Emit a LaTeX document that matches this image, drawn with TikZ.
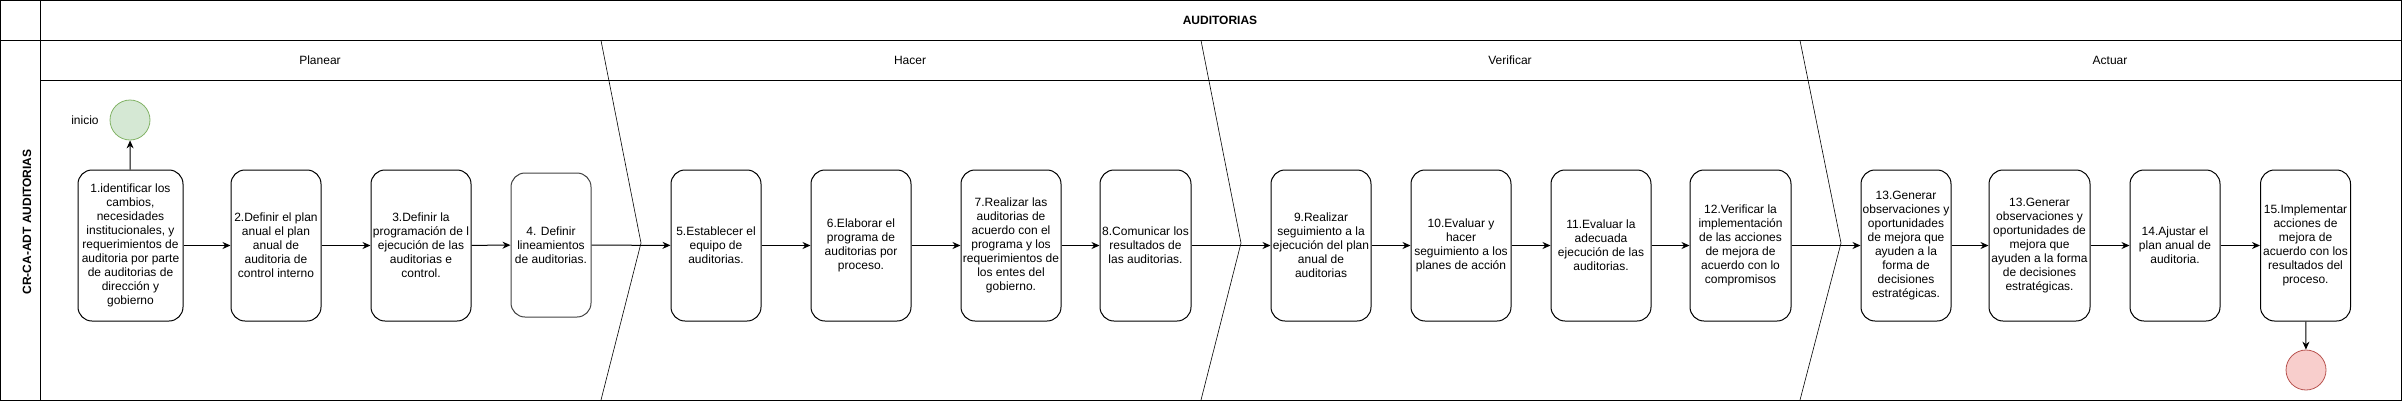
\documentclass[tikz,border=0pt]{standalone}
\usepackage{fontspec}
\setmainfont{Liberation Sans}
\usetikzlibrary{arrows.meta}

\definecolor{verdeini}{HTML}{D5E8D4}
\definecolor{bordeini}{HTML}{82B366}
\definecolor{rojofin}{HTML}{F8CECC}
\definecolor{bordefin}{HTML}{B85450}

\begin{document}
\begin{tikzpicture}[x=1pt,y=-1pt,
        font=\fontsize{12}{14}\selectfont,
        paso/.style={draw,line width=1pt,rounded corners=14pt,inner sep=0pt,
            align=center,minimum height=151pt},
        flecha/.style={-{Stealth[length=8pt,width=7pt]},line width=1pt},
        evento/.style={circle,minimum size=40pt,inner sep=0pt,line width=0.8pt},
        fase/.style={inner sep=0pt}]
    \useasboundingbox (0,0) rectangle (2403,402);

    % pool and lanes
    \draw[line width=0.8pt]
        (0.5,0.5) rectangle (2401,400)
        (40.5,0.5) -- (40.5,400)
        (0.5,40.5) -- (2401,40.5)
        (40.5,80.5) -- (2401,80.5)
    ;
    \draw[line width=0.6pt]
        (601,40.5) -- (641,243) -- (601,400)
        (1201,40.5) -- (1241,243) -- (1201,400)
        (1800,40.5) -- (1841,243) -- (1800,400)
    ;

    \node [fase,font=\fontsize{12}{14}\selectfont\bfseries] (titulo) at (1220,20) {AUDITORIAS};
    \node [fase,font=\fontsize{12}{14}\selectfont\bfseries,rotate=90] (carril) at (27,222) {CR-CA-ADT AUDITORIAS};
    \node [fase] (planear) at (320,60) {Planear};
    \node [fase] (hacer) at (910,60) {Hacer};
    \node [fase] (verificar) at (1510,60) {Verificar};
    \node [fase] (actuar) at (2110,60) {Actuar};

    % eventos
    \node [evento,fill=verdeini,draw=bordeini] (inicio) at (130,120) {};
    \node [fase] (txtinicio) at (85,120) {inicio};
    \node [evento,fill=rojofin,draw=bordefin] (fin) at (2306,370) {};

    % planear
    \node [paso,minimum width=105pt] (p1) at (130.5,245.5) {1.identificar los\\cambios,\\necesidades\\institucionales, y\\requerimientos de\\auditoria por parte\\de auditorias de\\dirección y\\gobierno};
    \node [paso,minimum width=90pt] (p2) at (276,245.5) {2.Definir el plan\\anual el plan\\anual de\\auditoria de\\control interno};
    \node [paso,minimum width=100pt] (p3) at (421,245.5) {3.Definir la\\programación de l\\ejecución de las\\auditorias e\\control.};
    \node [paso,minimum width=80pt,minimum height=144pt,draw=black!75] (p4) at (551,245) {4. Definir\\lineamientos\\de auditorias.};

    % hacer
    \node [paso,minimum width=90pt] (p5) at (716,245.5) {5.Establecer el\\equipo de\\auditorias.};
    \node [paso,minimum width=100pt] (p6) at (861,245.5) {6.Elaborar el\\programa de\\auditorias por\\proceso.};
    \node [paso,minimum width=100pt] (p7) at (1011,245.5) {7.Realizar las\\auditorias de\\acuerdo con el\\programa y los\\requerimientos de\\los entes del\\gobierno.};
    \node [paso,minimum width=91pt] (p8) at (1145.5,245.5) {8.Comunicar los\\resultados de\\las auditorias.};

    % verificar
    \node [paso,minimum width=100pt] (p9) at (1321,245.5) {9.Realizar\\seguimiento a la\\ejecución del plan\\anual de\\auditorias};
    \node [paso,minimum width=100pt] (p10) at (1461,245.5) {10.Evaluar y\\hacer\\seguimiento a los\\planes de acción};
    \node [paso,minimum width=100pt] (p11) at (1601,245.5) {11.Evaluar la\\adecuada\\ejecución de las\\auditorias.};
    \node [paso,minimum width=101pt] (p12) at (1740.5,245.5) {12.Verificar la\\implementación\\de las acciones\\de mejora de\\acuerdo con lo\\compromisos};

    % actuar
    \node [paso,minimum width=90pt] (p13a) at (1906,245.5) {13.Generar\\observaciones y\\oportunidades\\de mejora que\\ayuden a la\\forma de\\decisiones\\estratégicas.};
    \node [paso,minimum width=101pt] (p13b) at (2039.5,245.5) {13.Generar\\observaciones y\\oportunidades de\\mejora que\\ayuden a la forma\\de decisiones\\estratégicas.};
    \node [paso,minimum width=90pt] (p14) at (2175,245.5) {14.Ajustar el\\plan anual de\\auditoria.};
    \node [paso,minimum width=90pt] (p15) at (2305.5,245.5) {15.Implementar\\acciones de\\mejora de\\acuerdo con los\\resultados del\\proceso.};

    % conectores
    \draw [flecha] (p1) -- (inicio);
    \draw [flecha] (p1) -- (p2);
    \draw [flecha] (p2) -- (p3);
    \draw [flecha] (p3) -- (p4);
    \draw [flecha] (p4) -- (p5);
    \draw [flecha] (p5) -- (p6);
    \draw [flecha] (p6) -- (p7);
    \draw [flecha] (p7) -- (p8);
    \draw [flecha] (p8) -- (p9);
    \draw [flecha] (p9) -- (p10);
    \draw [flecha] (p10) -- (p11);
    \draw [flecha] (p11) -- (p12);
    \draw [flecha] (p12) -- (p13a);
    \draw [flecha] (p13a) -- (p13b);
    \draw [flecha] (p13b) -- (p14);
    \draw [flecha] (p14) -- (p15);
    \draw [flecha] (p15) -- (fin);
\end{tikzpicture}
\end{document}
